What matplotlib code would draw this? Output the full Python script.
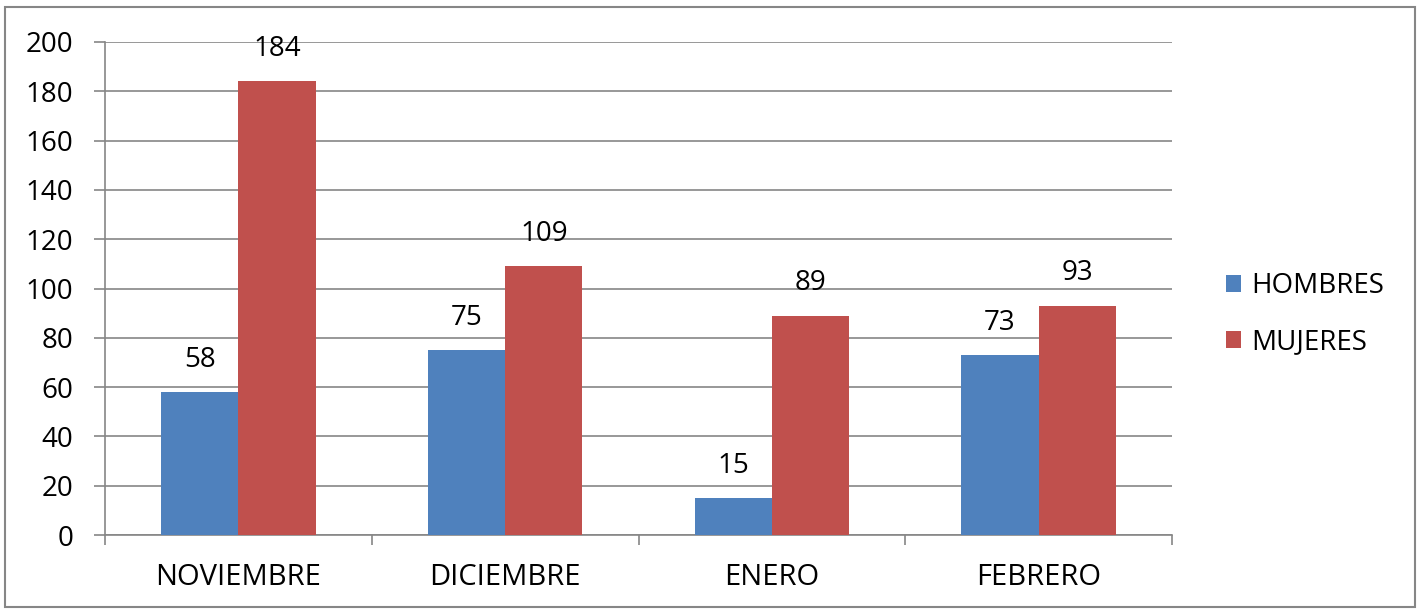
import numpy as np
import matplotlib.pyplot as plt
from matplotlib.patches import Rectangle

meses = ["NOVIEMBRE", "DICIEMBRE", "ENERO", "FEBRERO"]
hombres = [58, 75, 15, 73]
mujeres = [184, 109, 89, 93]
series = ["HOMBRES", "MUJERES"]
y_ticks = list(range(0, 201, 20))

azul = "#4F81BD"
rojo = "#C0504D"
gris = "#868686"
fs = 20

plt.rcParams["font.family"] = ["Open Sans", "DejaVu Sans"]

fig = plt.figure(figsize=(14.18, 6.10), dpi=100)
ax = fig.add_axes([105 / 1418, 1 - 535 / 610, 1067 / 1418, 493 / 610])

x = np.arange(len(meses))
w = 0.29
b1 = ax.bar(x - w / 2, hombres, w, color=azul, label=series[0], zorder=3)
b2 = ax.bar(x + w / 2, mujeres, w, color=rojo, label=series[1], zorder=3)

# etiquetas de datos encima de cada barra
for bars, vals in ((b1, hombres), (b2, mujeres)):
    for r, v in zip(bars, vals):
        ax.text(r.get_x() + r.get_width() / 2, v + 7.5, str(v), ha="center",
                va="bottom", fontsize=fs, color="#000000")

ax.set_xlim(-0.5, len(meses) - 0.5)
ax.set_ylim(0, 200)
ax.set_yticks(y_ticks)
ax.set_xticks(x)
ax.set_xticklabels(meses)
ax.set_xticks(np.arange(len(meses) + 1) - 0.5, minor=True)
ax.tick_params(axis="x", which="major", length=0, pad=20, labelsize=fs + 1)
ax.tick_params(axis="x", which="minor", length=7, color=gris, width=1.2)
ax.tick_params(axis="y", length=8, color=gris, width=1.2, pad=15, labelsize=fs)
ax.yaxis.grid(True, color=gris, linewidth=1.2, zorder=0)

for s in ("top", "right"):
    ax.spines[s].set_visible(False)
for s in ("left", "bottom"):
    ax.spines[s].set_color(gris)
    ax.spines[s].set_linewidth(1.2)

fig.legend(handles=[b1, b2], labels=series, loc="upper left",
           bbox_to_anchor=(1226 / 1418, 1 - 272 / 610), frameon=False,
           fontsize=fs, handlelength=0.55, handleheight=0.55,
           handletextpad=0.36, labelspacing=1.03, borderpad=0,
           borderaxespad=0)

fig.patches.append(Rectangle((5 / 1418, 3 / 610), 1410 / 1418, 600 / 610,
                             transform=fig.transFigure, fill=False,
                             edgecolor=gris, linewidth=1.5))

fig.savefig("out.png", dpi=100)
